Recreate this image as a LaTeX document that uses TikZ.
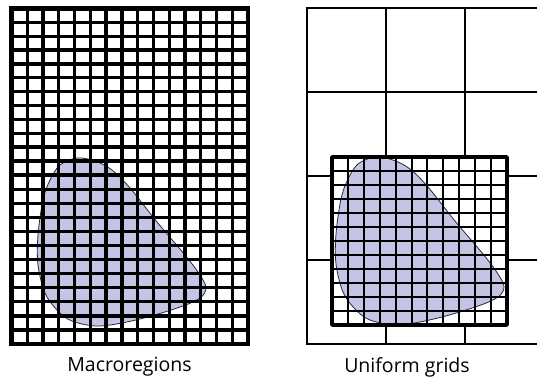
\documentclass[tikz,border=0pt]{standalone}
\usepackage{fontspec}
\setmainfont{Open Sans}
\definecolor{blobfill}{RGB}{196,196,228}
\definecolor{blobline}{RGB}{40,40,60}
\tikzset{
  gridline/.style={line width=3.3pt, black},
  gridbold/.style={line width=4.5pt, black, line cap=rect},
  coarseline/.style={line width=2pt, black},
  fineline/.style={line width=2pt, black},
  finebox/.style={line width=3.5pt, black, fill=white, line join=round},
  blob/.style={fill=blobfill, draw=blobline, line width=0.8pt},
  caption/.style={font=\fontsize{19.5}{22}\selectfont, inner sep=0pt}
}
\newcommand{\blobshape}{plot[smooth cycle, tension=0.55] coordinates {
 (50,180) (60,165) (77,158) (95,161) (112,170) (130,188) (157,222) (185,255)
 (200,275) (206,288) (200,298) (180,307) (140,319) (100,326) (72,321) (57,310)
 (45,293) (38,265) (38,235) (43,200)}}
\begin{document}
\begin{tikzpicture}[x=1pt,y=-1pt]
\useasboundingbox (0,0) rectangle (537,383);
\fill[white] (0,0) rectangle (537,383);
% ---------------- left: macroregions ----------------
\path[blob] \blobshape;
\foreach \i in {1,...,14}{
  \pgfmathsetmacro{\xx}{11.5+\i*236.5/15}
  \draw[gridline] (\xx,8.5) -- (\xx,344);
}
\foreach \j in {1,...,9}{
  \pgfmathsetmacro{\yy}{8.5+\j*138.5/10}
  \draw[gridline] (11.5,\yy) -- (248,\yy);
}
\foreach \k in {1,...,13}{
  \pgfmathsetmacro{\yy}{147+\k*197/14}
  \draw[gridline] (11.5,\yy) -- (248,\yy);
}
\draw[gridbold] (11.5,147) -- (248,147);
\draw[gridbold] (11.5,8.5) rectangle (248,344);
% ---------------- right: uniform grids ----------------
\foreach \xx in {307,386,465}{
  \draw[coarseline] (\xx,8) -- (\xx,344);
}
\foreach \yy in {8,92,176,260,344}{
  \draw[coarseline] (306,\yy) -- (537,\yy);
}
\path[finebox] (332,157) rectangle (507,325);
\begin{scope}[shift={(298,-1)}]
  \path[blob] \blobshape;
\end{scope}
\foreach \i in {1,...,10}{
  \pgfmathsetmacro{\xx}{332+\i*175/11}
  \draw[fineline] (\xx,157) -- (\xx,325);
}
\foreach \j in {1,...,11}{
  \pgfmathsetmacro{\yy}{157+\j*168/12}
  \draw[fineline] (332,\yy) -- (507,\yy);
}
\draw[line width=3.5pt, line join=round] (332,157) rectangle (507,325);
% ---------------- captions ----------------
\node[caption] (capleft) at (129.5,367) {Macroregions};
\node[caption] (capright) at (407,367) {Uniform grids};
\end{tikzpicture}
\end{document}
